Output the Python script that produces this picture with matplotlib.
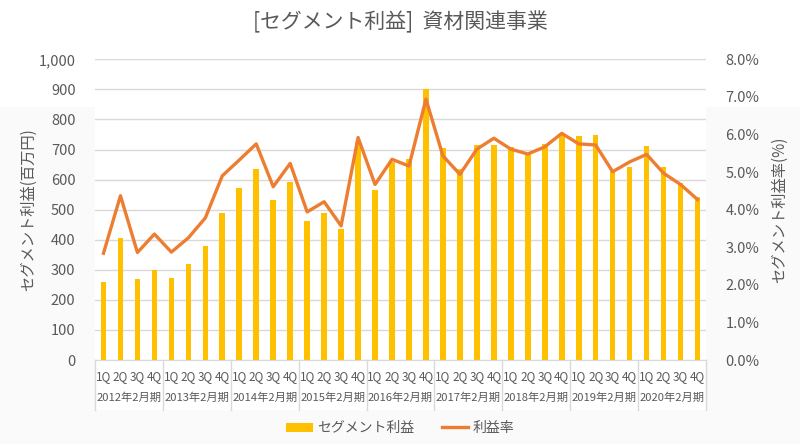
import matplotlib
matplotlib.use("Agg")
import matplotlib.pyplot as plt
from matplotlib.patches import Rectangle
from matplotlib.lines import Line2D
import matplotlib.transforms as mtransforms

plt.rcParams['font.family'] = ['Noto Sans CJK JP', 'DejaVu Sans']

years = ["2012年2月期", "2013年2月期", "2014年2月期", "2015年2月期", "2016年2月期",
         "2017年2月期", "2018年2月期", "2019年2月期", "2020年2月期"]
quarters = ["1Q", "2Q", "3Q", "4Q"]

segment_profit = [258, 407, 268, 299, 274, 320, 379, 489, 573, 635, 532, 592,
                  463, 489, 436, 725, 566, 657, 668, 900, 705, 635, 715, 715,
                  708, 687, 718, 748, 744, 749, 630, 641, 712, 641, 588, 541]
profit_rate = [2.84, 4.37, 2.86, 3.35, 2.87, 3.25, 3.78, 4.90, 5.32, 5.75, 4.61, 5.23,
               3.94, 4.21, 3.57, 5.92, 4.67, 5.34, 5.16, 6.94, 5.43, 4.94, 5.61, 5.90,
               5.61, 5.48, 5.67, 6.03, 5.75, 5.72, 5.01, 5.27, 5.47, 4.97, 4.67, 4.27]

W, H = 800, 444
fig = plt.figure(figsize=(W/100, H/100), dpi=100, facecolor='white')
# faint background band
fig.patches.append(Rectangle((0, 0), 1, 1 - 107/H, transform=fig.transFigure,
                             facecolor='#FAFAFA', edgecolor='none', zorder=-10))
L, R, T, B = 95, 706, 59.3, 360
fig.patches.append(Rectangle((L/W, 1 - 410/H), (R-L)/W, (410-B)/H, transform=fig.transFigure,
                             facecolor='white', edgecolor='none', zorder=-5))
ax = fig.add_axes([L/W, 1 - B/H, (R-L)/W, (B-T)/H])
ax.set_facecolor('white')

n = len(segment_profit)
x = list(range(n))
ax.bar(x, segment_profit, width=0.33, color='#FFC000', zorder=2)
ax.set_xlim(-0.5, n - 0.5)
ax.set_ylim(0, 1000)
ax.set_yticks(range(0, 1001, 100))
ax.set_yticklabels([f"{v:,}" for v in range(0, 1001, 100)])
ax.grid(axis='y', color='#D9D9D9', linewidth=1, zorder=0)
ax.set_axisbelow(True)
for s in ['top', 'right', 'left']:
    ax.spines[s].set_visible(False)
ax.spines['bottom'].set_color('#D9D9D9')
ax.tick_params(axis='y', length=0, labelsize=10.5, colors='#595959', pad=14)
ax.set_xticks(x)
ax.set_xticklabels([quarters[i % 4] for i in x], fontsize=8.5, color='#595959')
ax.tick_params(axis='x', length=0, pad=7)
ax.set_ylabel("セグメント利益(百万円)", fontsize=11, color='#595959', labelpad=1)

trans = mtransforms.blended_transform_factory(ax.transData, ax.transAxes)
for i, yl in enumerate(years):
    ax.text(4*i + 1.5, -38/(B-T), yl, transform=trans, ha='center', va='center',
            fontsize=8.1, color='#595959')
for k in range(len(years) + 1):
    ax.add_line(Line2D([4*k - 0.5, 4*k - 0.5], [0, -50/(B-T)], transform=trans,
                       color='#D9D9D9', linewidth=1, clip_on=False))

ax2 = ax.twinx()
ax2.plot(x, profit_rate, color='#ED7D31', linewidth=2.4, zorder=3)
ax2.set_ylim(0, 8)
ax2.set_yticks(range(0, 9))
ax2.set_yticklabels([f"{v:.1f}%" for v in range(0, 9)])
for s in ['top', 'right', 'left', 'bottom']:
    ax2.spines[s].set_visible(False)
ax2.tick_params(axis='y', length=0, labelsize=10.5, colors='#595959', pad=14)
ax2.set_ylabel("セグメント利益率(%)", fontsize=11, color='#595959', labelpad=8)

fig.text(0.5, 1 - 22/H, "[セグメント利益]  資材関連事業", ha='center', va='center',
         fontsize=15, color='#595959')

handles = [Rectangle((0, 0), 1, 1, facecolor='#FFC000', edgecolor='none'),
           Line2D([], [], color='#ED7D31', linewidth=2.4)]
fig.legend(handles, ["セグメント利益", "利益率"], loc='center', ncol=2,
           bbox_to_anchor=(0.5, 1 - 428/H), frameon=False, fontsize=10,
           handlelength=1.9, handleheight=0.6, handletextpad=0.3,
           columnspacing=2.0, labelcolor='#595959')

fig.savefig("out.png", dpi=100)
